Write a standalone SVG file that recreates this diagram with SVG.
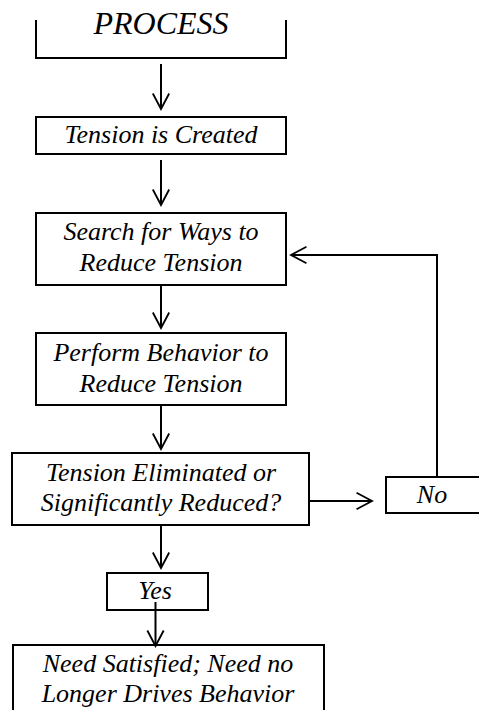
<svg xmlns="http://www.w3.org/2000/svg" width="479" height="710" viewBox="0 0 479 710">
  <defs>
    <style>
      .box { fill: #fff; stroke: #000; stroke-width: 2; }
      .line { fill: none; stroke: #000; stroke-width: 2; }
      text { font-family: 'Liberation Serif', 'DejaVu Serif', serif; font-style: italic; font-size: 26px; fill: #000; text-anchor: middle; }
      .title { font-size: 32px; }
    </style>
    <marker id="ah" markerUnits="userSpaceOnUse" markerWidth="20" markerHeight="20" viewBox="-19 -11 21 22" refX="0" refY="0" orient="auto" overflow="visible">
      <path d="M-17,-9 L0,0 L-17,9" fill="none" stroke="#000" stroke-width="2"/>
    </marker>
  </defs>
  <rect width="479" height="710" fill="#fff"/>

  <g id="process">
    <path class="line" d="M36,20 V58 H286 V20"/>
    <text class="title" x="161" y="34">PROCESS</text>
  </g>

  <g id="tension-created">
    <rect class="box" x="36" y="117" width="250" height="37"/>
    <text x="161" y="143">Tension is Created</text>
  </g>

  <g id="search">
    <rect class="box" x="36" y="213" width="250" height="72"/>
    <text x="161" y="240">Search for Ways to</text>
    <text x="161" y="271">Reduce Tension</text>
  </g>

  <g id="perform">
    <rect class="box" x="36" y="333" width="250" height="72"/>
    <text x="161" y="361">Perform Behavior to</text>
    <text x="161" y="392">Reduce Tension</text>
  </g>

  <g id="decision">
    <rect class="box" x="12" y="453" width="297" height="72"/>
    <text x="161" y="481">Tension Eliminated or</text>
    <text x="161" y="511">Significantly Reduced?</text>
  </g>

  <g id="no">
    <rect class="box" x="386" y="477" width="100" height="36"/>
    <text x="432" y="503">No</text>
  </g>

  <g id="yes">
    <rect class="box" x="107" y="573" width="101" height="37"/>
    <text x="155" y="599">Yes</text>
  </g>

  <g id="satisfied">
    <rect class="box" x="13" y="645" width="311" height="80"/>
    <text x="168" y="672">Need Satisfied; Need no</text>
    <text x="168" y="702">Longer Drives Behavior</text>
  </g>

  <g id="connectors">
    <path class="line" d="M161,64 V109" marker-end="url(#ah)"/>
    <path class="line" d="M161,160 V205" marker-end="url(#ah)"/>
    <path class="line" d="M161,285 V328" marker-end="url(#ah)"/>
    <path class="line" d="M161,405 V449" marker-end="url(#ah)"/>
    <path class="line" d="M161,525 V568" marker-end="url(#ah)"/>
    <path class="line" d="M155.5,602 V646" marker-end="url(#ah)"/>
    <path class="line" d="M309,501 H372" marker-end="url(#ah)"/>
    <path class="line" d="M437,477 V255 H291" marker-end="url(#ah)"/>
  </g>
</svg>
